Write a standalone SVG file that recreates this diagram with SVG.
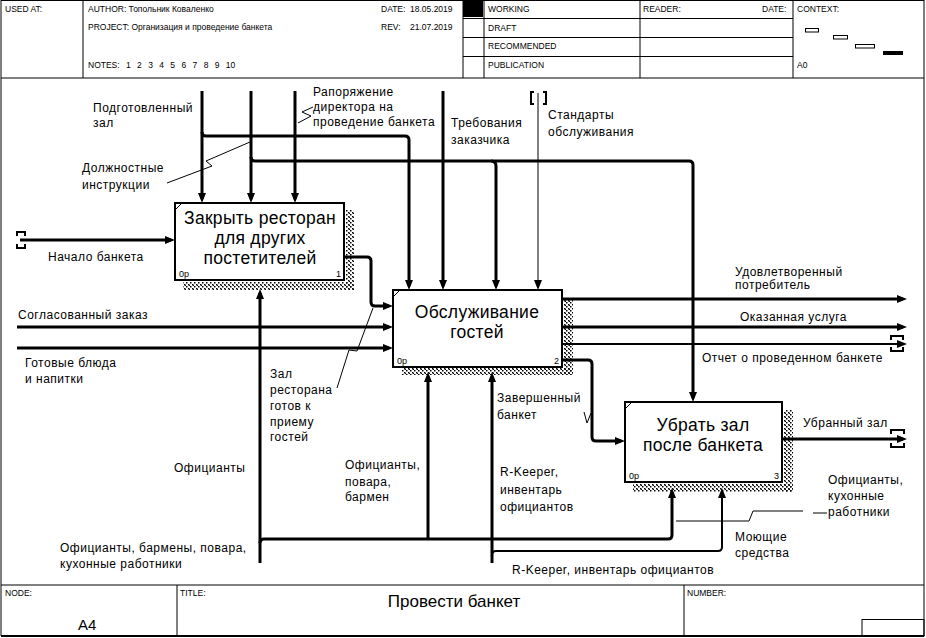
<svg xmlns="http://www.w3.org/2000/svg" width="926" height="638" viewBox="0 0 926 638">
<defs>
<style>
.hd{font-family:"Liberation Sans",Arial,sans-serif;font-size:8.5px;fill:#000}
.lb{font-family:"Liberation Sans",Arial,sans-serif;font-size:12px;letter-spacing:0.5px;fill:#000}
.bx{font-family:"Liberation Sans",Arial,sans-serif;font-size:17.5px;letter-spacing:0.3px;fill:#000;text-anchor:middle}
.sm{font-family:"Liberation Sans",Arial,sans-serif;font-size:9px;fill:#000}
.fr{fill:none;stroke:#000;stroke-width:1}
.box{fill:#fff;stroke:#000;stroke-width:2}
.c{fill:none;stroke:#000;stroke-width:3}
.c2{fill:none;stroke:#000;stroke-width:2}
.c1{fill:none;stroke:#000;stroke-width:1}
.ld{fill:none;stroke:#000;stroke-width:1}
.sh{fill:url(#dots)}
</style>
<pattern id="dots" width="4" height="4" patternUnits="userSpaceOnUse">
<rect x="0" y="0" width="1.5" height="1.5" fill="#000"/>
<rect x="2" y="2" width="1.5" height="1.5" fill="#000"/>
<rect x="1" y="1" width="1" height="1" fill="#000"/>
</pattern>
<marker id="ah" viewBox="0 0 10 8" refX="6" refY="4" markerWidth="10" markerHeight="8" orient="auto" markerUnits="userSpaceOnUse">
<path d="M0,0 L10,4 L0,8 z" fill="#000"/>
</marker>
</defs>
<rect x="0" y="0" width="926" height="638" fill="#fff"/>

<g id="frame">
<rect x="1" y="0.5" width="923" height="635" class="fr"/>
<line x1="1" y1="78" x2="924" y2="78" class="fr"/>
<line x1="83" y1="0" x2="83" y2="78" class="fr"/>
<line x1="463" y1="0" x2="463" y2="78" class="fr"/>
<line x1="484" y1="0" x2="484" y2="78" class="fr"/>
<line x1="640" y1="0" x2="640" y2="78" class="fr"/>
<line x1="793" y1="0" x2="793" y2="78" class="fr"/>
<line x1="463" y1="18.5" x2="793" y2="18.5" class="fr"/>
<line x1="463" y1="37.5" x2="793" y2="37.5" class="fr"/>
<line x1="463" y1="56.5" x2="793" y2="56.5" class="fr"/>
<rect x="463" y="0" width="20" height="17" fill="#000"/>
<text x="5" y="12" class="hd">USED AT:</text>
<text x="88" y="12" class="hd">AUTHOR:  Топольник Коваленко</text>
<text x="88" y="30" class="hd">PROJECT:  Организация и проведение банкета</text>
<text x="88" y="68" class="hd" word-spacing="4">NOTES:  1  2  3  4  5  6  7  8  9  10</text>
<text x="381" y="12" class="hd">DATE:</text>
<text x="410" y="12" class="hd">18.05.2019</text>
<text x="381" y="30" class="hd">REV:</text>
<text x="410" y="30" class="hd">21.07.2019</text>
<text x="488" y="12" class="hd">WORKING</text>
<text x="488" y="31" class="hd">DRAFT</text>
<text x="488" y="49" class="hd">RECOMMENDED</text>
<text x="488" y="68" class="hd">PUBLICATION</text>
<text x="643" y="12" class="hd">READER:</text>
<text x="762" y="12" class="hd">DATE:</text>
<text x="797" y="12" class="hd">CONTEXT:</text>
<text x="797" y="68" class="hd">A0</text>
<rect x="805.5" y="28.5" width="13" height="3.5" class="fr"/>
<rect x="833.5" y="35.5" width="14" height="3.5" class="fr"/>
<rect x="855.5" y="44.5" width="19" height="3.5" class="fr"/>
<rect x="883" y="51" width="20" height="4" fill="#000"/>
<line x1="1" y1="585" x2="924" y2="585" class="fr"/>
<line x1="177" y1="585" x2="177" y2="636" class="fr"/>
<line x1="684" y1="585" x2="684" y2="636" class="fr"/>
<line x1="1" y1="636" x2="924" y2="636" stroke="#000" stroke-width="2"/>
<rect x="862" y="619.5" width="62" height="16.5" class="fr"/>
<text x="5" y="596" class="hd">NODE:</text>
<text x="180" y="596" class="hd">TITLE:</text>
<text x="687" y="596" class="hd">NUMBER:</text>
<text x="78" y="630" font-family="Liberation Sans,Arial,sans-serif" font-size="15">A4</text>
<text x="454" y="607" font-family="Liberation Sans,Arial,sans-serif" font-size="17" text-anchor="middle">Провести банкет</text>
</g>

<g id="connectors">
<path d="M20,240 H171" class="c" marker-end="url(#ah)"/>
<path d="M17,327 H389" class="c" marker-end="url(#ah)"/>
<path d="M17,348 H389" class="c" marker-end="url(#ah)"/>
<path d="M344,257 H367 Q371,257 371,261 V302 Q371,306 375,306 H389" class="c" marker-end="url(#ah)"/>
<path d="M202,91 V199" class="c" marker-end="url(#ah)"/>
<path d="M202,132 Q202,136 206,136 H405 Q409,136 409,140 V286" class="c" marker-end="url(#ah)"/>
<path d="M251,91 V199" class="c" marker-end="url(#ah)"/>
<path d="M251,157 Q251,161 255,161 H689 Q693,161 693,165 V398" class="c" marker-end="url(#ah)"/>
<path d="M491,161 Q496,161 496,166 V286" class="c" marker-end="url(#ah)"/>
<path d="M295,91 V199" class="c" marker-end="url(#ah)"/>
<path d="M443,91 V286" class="c" marker-end="url(#ah)"/>
<path d="M538,93 V286" class="c1" marker-end="url(#ah)"/>
<path d="M562,299 H903" class="c" marker-end="url(#ah)"/>
<path d="M562,327 H903" class="c" marker-end="url(#ah)"/>
<path d="M562,344 H903" class="c2" marker-end="url(#ah)"/>
<path d="M562,360 H588 Q592,360 592,364 V437 Q592,441 596,441 H621" class="c" marker-end="url(#ah)"/>
<path d="M782,439 H903" class="c" marker-end="url(#ah)"/>
<path d="M260,563 V293" class="c" marker-end="url(#ah)"/>
<path d="M260,543 Q260,539 264,539 H668 Q672,539 672,535 V492" class="c" marker-end="url(#ah)"/>
<path d="M428,539 V376" class="c" marker-end="url(#ah)"/>
<path d="M492,563 V376" class="c" marker-end="url(#ah)"/>
<path d="M492,555 Q492,551 496,551 H718 Q722,551 722,547 V492" class="c2" marker-end="url(#ah)"/>
<path d="M17,236 V232 H25 V236 M17,244 V248 H25 V244" class="c2"/>
<path d="M534,92 H531 V104 H534 M543,92 H546 V104 H543" class="c2"/>
<path d="M891,340 V336 H903 V340 M891,347 V351 H903 V347" class="c2"/>
<path d="M891,434 V430 H904 V434 M891,443 V447 H904 V443" class="c2"/>
<path d="M167,183 L212,166 L206,161 L250,142" class="ld"/>
<path d="M313,107 L302,112 L311,116 L298,123" class="ld"/>
<path d="M337,388 L349,350 L357,351 L373,308" class="ld"/>
<path d="M584,412 L587,423 L591,413" class="ld"/>
<path d="M676,521 H749 L753,511 H803 M813,513 H827" class="ld"/>
</g>

<g id="box1">
<rect x="346" y="210" width="8" height="80" class="sh"/>
<rect x="183" y="282" width="171" height="8" class="sh"/>
<rect x="175" y="203" width="169" height="77" class="box"/>
<line x1="175" y1="210" x2="182" y2="203" stroke="#000" stroke-width="1"/>
<text x="260" y="224" class="bx">Закрыть ресторан</text>
<text x="260" y="244" class="bx">для других</text>
<text x="260" y="264" class="bx">постетителей</text>
<text x="179" y="277" class="sm">0p</text>
<text x="341" y="277" class="sm" text-anchor="end">1</text>
</g>

<g id="box2">
<rect x="564" y="298" width="9" height="77" class="sh"/>
<rect x="402" y="368" width="171" height="7" class="sh"/>
<rect x="393" y="290" width="169" height="77" class="box"/>
<line x1="393" y1="297" x2="400" y2="290" stroke="#000" stroke-width="1"/>
<text x="477" y="318" class="bx">Обслуживание</text>
<text x="477" y="338" class="bx">гостей</text>
<text x="397" y="364" class="sm">0p</text>
<text x="559" y="364" class="sm" text-anchor="end">2</text>
</g>

<g id="box3">
<rect x="784" y="410" width="9" height="82" class="sh"/>
<rect x="633" y="484" width="160" height="8" class="sh"/>
<rect x="625" y="402" width="157" height="80" class="box"/>
<line x1="625" y1="409" x2="632" y2="402" stroke="#000" stroke-width="1"/>
<text x="703" y="431" class="bx">Убрать зал</text>
<text x="703" y="451" class="bx">после банкета</text>
<text x="629" y="479" class="sm">0p</text>
<text x="779" y="479" class="sm" text-anchor="end">3</text>
</g>

<g id="labels">
<text x="93" y="112" class="lb">Подготовленный</text>
<text x="93" y="127" class="lb">зал</text>
<text x="313" y="96" class="lb">Рапоряжение</text>
<text x="313" y="111" class="lb">директора на</text>
<text x="313" y="126" class="lb">проведение банкета</text>
<text x="451" y="127" class="lb">Требования</text>
<text x="451" y="144" class="lb">заказчика</text>
<text x="548" y="119" class="lb">Стандарты</text>
<text x="548" y="136" class="lb">обслуживания</text>
<text x="82" y="172" class="lb">Должностные</text>
<text x="82" y="189" class="lb">инструкции</text>
<text x="48" y="261" class="lb">Начало банкета</text>
<text x="18" y="319" class="lb">Согласованный заказ</text>
<text x="25" y="367" class="lb">Готовые блюда</text>
<text x="25" y="383" class="lb">и напитки</text>
<text x="270" y="378" class="lb">Зал</text>
<text x="270" y="394" class="lb">ресторана</text>
<text x="270" y="410" class="lb">готов к</text>
<text x="270" y="426" class="lb">приему</text>
<text x="270" y="441" class="lb">гостей</text>
<text x="735" y="276" class="lb">Удовлетворенный</text>
<text x="735" y="289" class="lb">потребитель</text>
<text x="740" y="321" class="lb">Оказанная услуга</text>
<text x="702" y="362" class="lb">Отчет о проведенном банкете</text>
<text x="497" y="402" class="lb">Завершенный</text>
<text x="497" y="419" class="lb">банкет</text>
<text x="803" y="427" class="lb">Убранный зал</text>
<text x="828" y="484" class="lb">Официанты,</text>
<text x="828" y="500" class="lb">кухонные</text>
<text x="828" y="516" class="lb">работники</text>
<text x="735" y="541" class="lb">Моющие</text>
<text x="735" y="557" class="lb">средства</text>
<text x="174" y="472" class="lb">Официанты</text>
<text x="345" y="469" class="lb">Официанты,</text>
<text x="345" y="486" class="lb">повара,</text>
<text x="345" y="501" class="lb">бармен</text>
<text x="500" y="476" class="lb">R-Keeper,</text>
<text x="500" y="494" class="lb">инвентарь</text>
<text x="500" y="511" class="lb">официантов</text>
<text x="60" y="552" class="lb">Официанты, бармены, повара,</text>
<text x="60" y="568" class="lb">кухонные работники</text>
<text x="512" y="574" class="lb">R-Keeper, инвентарь официантов</text>
</g>
</svg>
